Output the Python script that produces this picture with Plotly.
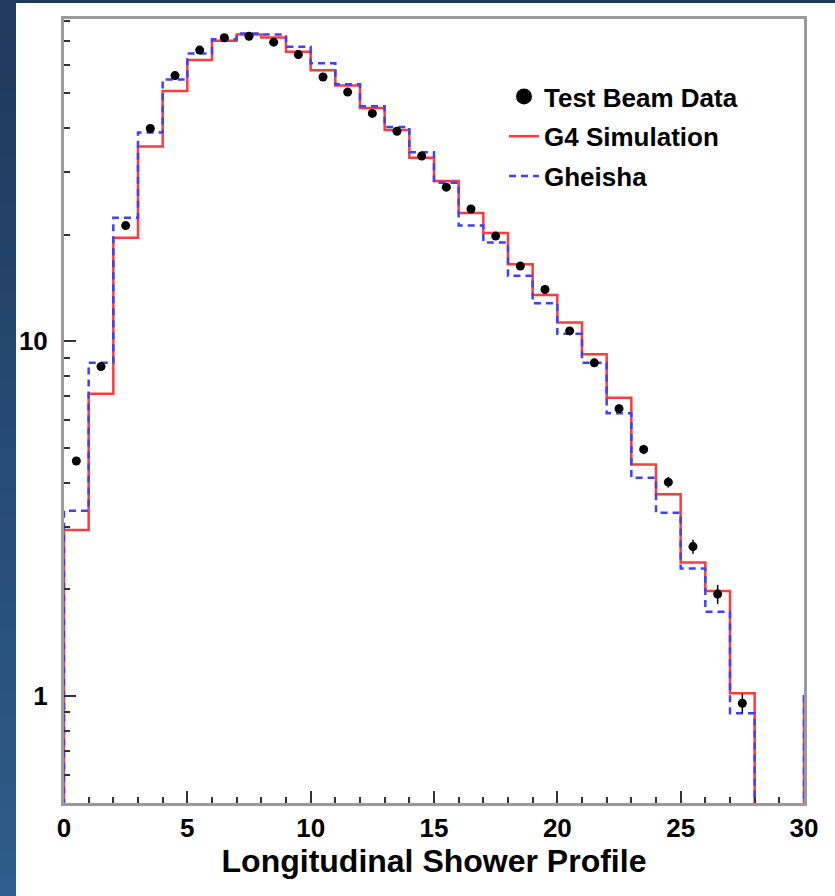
import numpy as np
import plotly.graph_objects as go

# bin edges: 30 layers of width 1, plus the overflow bin that shows up at x=30
edges = np.arange(0, 32)

test_beam = [4.6, 8.49, 21.2, 39.8, 56.1, 66.2, 71.7, 72.4, 69.7, 64.3,
             55.6, 50.4, 43.9, 39.1, 33.3, 27.2, 23.6, 19.8, 16.3, 14.0,
             10.7, 8.7, 6.46, 4.96, 4.01, 2.64, 1.94, 0.955]
test_beam_err = [0.08, 0.15, 0.3, 0.5, 0.6, 0.7, 0.7, 0.7, 0.7, 0.7,
                 0.6, 0.6, 0.5, 0.5, 0.45, 0.4, 0.35, 0.3, 0.3, 0.28,
                 0.25, 0.22, 0.18, 0.15, 0.14, 0.12, 0.12, 0.06]
g4_sim = [2.94, 7.12, 19.6, 35.4, 50.8, 62.1, 70.3, 73.2, 71.8, 65.5,
          58.1, 52.6, 45.5, 39.4, 32.9, 28.3, 23.0, 20.2, 16.5, 13.5,
          11.3, 9.19, 6.94, 4.50, 3.71, 2.38, 1.98, 1.02, 0, 0, 1.0]
gheisha = [3.33, 8.71, 22.3, 38.8, 54.7, 64.8, 71.0, 73.7, 73.2, 67.6,
           60.8, 53.0, 46.0, 40.2, 34.1, 28.0, 21.2, 19.0, 15.3, 12.8,
           10.5, 8.71, 6.27, 4.13, 3.29, 2.29, 1.73, 0.895, 0, 0, 1.0]

FLOOR = 0.01  # empty bins drawn below the visible log range


def step(vals):
    v = [x if x > 0 else FLOOR for x in vals]
    xs = [edges[0]] + list(edges[:-1]) + [edges[-1]]
    ys = [FLOOR] + v + [v[-1]]
    return xs, ys


centers = edges[:len(test_beam)] + 0.5
W, H = 835, 896
ML, MR, MT, MB = 64, 31, 19, 93
pw, ph = W - ML - MR, H - MT - MB

bold = dict(family="Liberation Sans, Arial, sans-serif", color="black", weight="bold")

fig = go.Figure()

xs, ys = step(g4_sim)
fig.add_trace(go.Scatter(x=xs, y=ys, mode="lines", line_shape="hv", name="G4 Simulation",
                         line=dict(color="#ff3b3b", width=2.5), legendgroup="b", legendrank=2))
xs, ys = step(gheisha)
fig.add_trace(go.Scatter(x=xs, y=ys, mode="lines", line_shape="hv", name="Gheisha",
                         line=dict(color="#3f3fff", width=2.5, dash="7px,5px"),
                         legendgroup="c", legendrank=3))
fig.add_trace(go.Scatter(x=centers, y=test_beam, mode="markers", showlegend=False,
                         marker=dict(color="black", size=9),
                         error_y=dict(type="data", array=test_beam_err, width=0,
                                      thickness=1.5, color="black")))
# legend entry with the bigger dot
fig.add_trace(go.Scatter(x=[None], y=[None], mode="markers", name="Test Beam Data",
                         marker=dict(color="black", size=16), legendgroup="a", legendrank=1))


def px_x(p):
    return (p - ML) / pw


def px_y(p):
    return (H - MB - p) / ph


# dark blue frame strips (left gradient + thin top band)
shapes = []
n = 40
c0, c1 = np.array([0x1e, 0x3a, 0x5c]), np.array([0x2e, 0x5c, 0x8c])
for i in range(n):
    c = (c0 + (c1 - c0) * i / (n - 1)).astype(int)
    shapes.append(dict(type="rect", xref="paper", yref="paper", layer="below",
                       x0=px_x(0), x1=px_x(16), y0=px_y(H * (i + 1) / n + 1), y1=px_y(H * i / n),
                       fillcolor="rgb(%d,%d,%d)" % tuple(c), line_width=0))
shapes.append(dict(type="rect", xref="paper", yref="paper", layer="below",
                   x0=px_x(0), x1=px_x(W), y0=px_y(3), y1=px_y(0),
                   fillcolor="#1e3a5c", line_width=0))

fig.update_layout(
    width=W, height=H,
    margin=dict(l=ML, r=MR, t=MT, b=MB, autoexpand=False),
    paper_bgcolor="white", plot_bgcolor="white",
    shapes=shapes,
    showlegend=True,
    legend=dict(x=px_x(504), y=px_y(73), xanchor="left", yanchor="top",
                bgcolor="rgba(0,0,0,0)", font=dict(size=26, **bold),
                tracegroupgap=3, itemsizing="trace"),
    xaxis=dict(range=[0, 30], dtick=5, tick0=0, ticks="inside", ticklen=12, tickwidth=2,
               tickcolor="#333", minor=dict(ticks="inside", dtick=1, ticklen=6, tickwidth=1.5,
                                            tickcolor="#333"),
               showline=True, linecolor="#9a9a9a", linewidth=3, mirror=True,
               showgrid=False, zeroline=False, ticklabelstandoff=0, automargin=False,
               tickfont=dict(size=26, **bold),
               title=dict(text="Longitudinal Shower Profile", font=dict(size=32, **bold),
                          standoff=0)),
    yaxis=dict(type="log", range=[np.log10(0.5), np.log10(81)], dtick=1,
               ticks="inside", ticklen=12, tickwidth=2, tickcolor="#333",
               minor=dict(ticks="inside", dtick="D1", ticklen=6, tickwidth=1.5, tickcolor="#333"),
               showline=True, linecolor="#9a9a9a", linewidth=3, mirror=True,
               showgrid=False, zeroline=False, ticklabelstandoff=8, automargin=False,
               tickfont=dict(size=26, **bold)),
)

# drop the browser's default page margin so the figure sits at the window corner
fig.write_html("out.html", config={"displayModeBar": False},
               post_script="document.body.style.margin='0';")
